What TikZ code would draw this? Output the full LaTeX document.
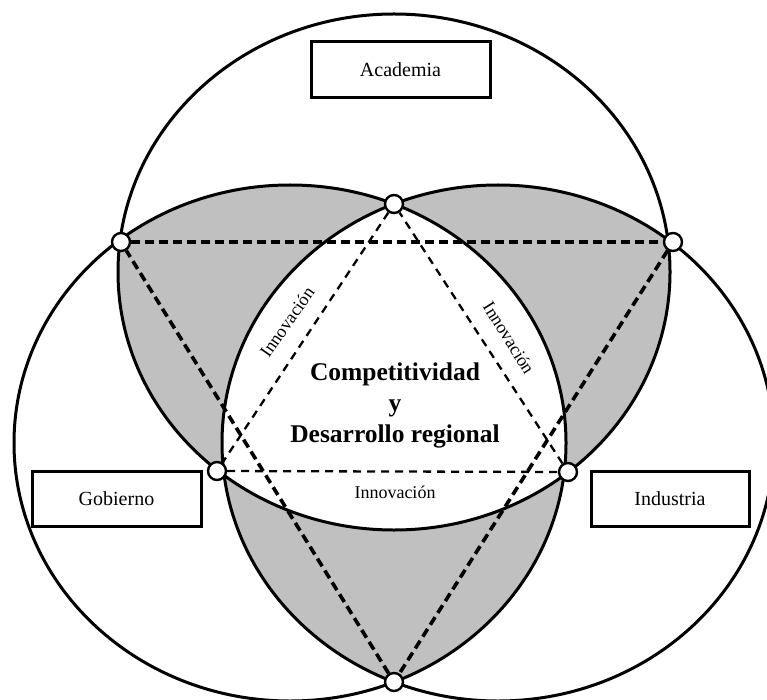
\documentclass[tikz,border=0pt]{standalone}
\usepackage{fontspec}
\setmainfont{Liberation Serif}
\usetikzlibrary{positioning}

\definecolor{lensgray}{RGB}{192,192,192}
\newcommand{\circAcademia}{(394,272) ellipse [x radius=276pt, y radius=258pt]}
\newcommand{\circGobierno}{(290,443) ellipse [x radius=276pt, y radius=258pt]}
\newcommand{\circIndustria}{(498,443) ellipse [x radius=276pt, y radius=258pt]}

\begin{document}
\begin{tikzpicture}[
            x=1pt, y=-1pt,
            every node/.style={font=\fontsize{20}{24}\selectfont, align=center},
            box/.style={draw, line width=3pt, inner sep=0pt},
            ring/.style={line width=3pt},
            dot/.style={circle, draw, line width=2.4pt, fill=white, minimum size=18pt, inner sep=0pt},
            outerline/.style={line width=3.6pt, dash pattern=on 9pt off 5pt},
            innerline/.style={line width=2.3pt, dash pattern=on 8pt off 6pt},
            small/.style={font=\fontsize{18}{20}\selectfont}
        ]
        \useasboundingbox (0,0) rectangle (767,700);

        % Shading of the overlaps
        \begin{scope}\clip \circAcademia; \fill[lensgray] \circGobierno; \end{scope}
        \begin{scope}\clip \circAcademia; \fill[lensgray] \circIndustria; \end{scope}
        \begin{scope}\clip \circGobierno; \fill[lensgray] \circIndustria; \end{scope}
        \begin{scope}\clip \circAcademia; \clip \circGobierno; \fill[white] \circIndustria; \end{scope}

        % Circles
        \draw[ring] \circAcademia;
        \draw[ring] \circGobierno;
        \draw[ring] \circIndustria;

        % Nodes
        \node[box, minimum width=179pt, minimum height=56pt] (academia) at (400.5,70) {Academia};
        \node[box, minimum width=169pt, minimum height=55pt] (gobierno) at (116.5,498.5) {Gobierno};
        \node[box, minimum width=158pt, minimum height=55pt] (industria) at (670,498.5) {Industria};

        \node[dot] (top) at (394,204) {};
        \node[dot] (upleft) at (121,242) {};
        \node[dot] (upright) at (673,242) {};
        \node[dot] (lowleft) at (217,471) {};
        \node[dot] (lowright) at (568,472) {};
        \node[dot] (bottom) at (394,682) {};

        \node[font=\fontsize{25.5}{31}\selectfont\bfseries, inner sep=0pt] (goal) at (395,405) {Competitividad\\y\\Desarrollo regional};

        \node[small, rotate=55] (innovleft) at (287,322) {Innovación};
        \node[small, rotate=-58] (innovright) at (509,338) {Innovación};
        \node[small] (innovbottom) at (395,492) {Innovación};

        % Connections
        \draw[outerline] (upleft) -- (upright);
        \draw[outerline] (upright) -- (bottom);
        \draw[outerline] (bottom) -- (upleft);

        \draw[innerline] (top) -- (lowleft);
        \draw[innerline] (lowleft) -- (lowright);
        \draw[innerline] (lowright) -- (top);

    \end{tikzpicture}
\end{document}
